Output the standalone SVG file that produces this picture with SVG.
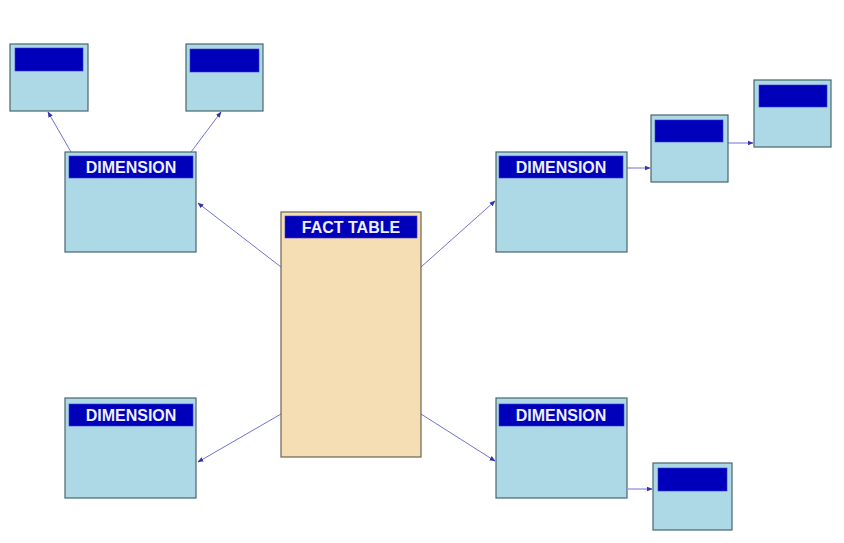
<svg xmlns="http://www.w3.org/2000/svg" width="844" height="543" viewBox="0 0 844 543">
<defs>
<style>
.box{fill:#add8e6;stroke:#48666c;stroke-width:1.2}
.fact{fill:#f5deb3;stroke:#6b6452;stroke-width:1.2}
.hdr{fill:#0000bb;stroke:#3a3ad0;stroke-width:0.6}
.lbl{font-family:"Liberation Sans",Arial,sans-serif;font-weight:bold;font-size:16px;fill:#eef0fa;text-anchor:middle}
.con{stroke:#7272d2;stroke-width:1;fill:none;marker-end:url(#ah)}
</style>
<marker id="ah" viewBox="0 0 10 10" refX="9" refY="5" markerWidth="6" markerHeight="6" orient="auto" markerUnits="userSpaceOnUse">
<path d="M0,1 L10,5 L0,9 z" fill="#3333aa"/>
</marker>
</defs>
<rect width="844" height="543" fill="#ffffff"/>
<g id="connectors">
<line class="con" x1="71" y1="152" x2="48" y2="112"/>
<line class="con" x1="191" y1="152" x2="221" y2="112"/>
<line class="con" x1="281" y1="267" x2="198" y2="203"/>
<line class="con" x1="421" y1="267" x2="495" y2="201"/>
<line class="con" x1="627" y1="168" x2="650" y2="168"/>
<line class="con" x1="728" y1="143" x2="753" y2="143"/>
<line class="con" x1="281" y1="414" x2="198" y2="462"/>
<line class="con" x1="421" y1="414" x2="495" y2="461"/>
<line class="con" x1="628" y1="489" x2="652" y2="489"/>
</g>
<g id="small-tl"><rect class="box" x="10" y="44" width="78" height="67"/><rect class="hdr" x="15" y="48" width="68" height="23"/></g>
<g id="small-tm"><rect class="box" x="186" y="44" width="77" height="67"/><rect class="hdr" x="190" y="49" width="69" height="23"/></g>
<g id="dim-tl"><rect class="box" x="65" y="152" width="131" height="100"/><rect class="hdr" x="69" y="156" width="124" height="22"/><text class="lbl" x="131" y="173">DIMENSION</text></g>
<g id="fact"><rect class="fact" x="281" y="212" width="140" height="245"/><rect class="hdr" x="285" y="216" width="132" height="22"/><text class="lbl" x="351" y="233">FACT TABLE</text></g>
<g id="dim-tr"><rect class="box" x="496" y="152" width="131" height="100"/><rect class="hdr" x="499" y="156" width="124" height="22"/><text class="lbl" x="561" y="173">DIMENSION</text></g>
<g id="small-r1"><rect class="box" x="651" y="115" width="77" height="67"/><rect class="hdr" x="655" y="120" width="68" height="22"/></g>
<g id="small-r2"><rect class="box" x="754" y="80" width="77" height="67"/><rect class="hdr" x="759" y="85" width="68" height="22"/></g>
<g id="dim-bl"><rect class="box" x="65" y="398" width="131" height="100"/><rect class="hdr" x="69" y="404" width="124" height="22"/><text class="lbl" x="131" y="421">DIMENSION</text></g>
<g id="dim-br"><rect class="box" x="496" y="398" width="131" height="100"/><rect class="hdr" x="499" y="404" width="125" height="22"/><text class="lbl" x="561" y="421">DIMENSION</text></g>
<g id="small-br"><rect class="box" x="653" y="463" width="79" height="67"/><rect class="hdr" x="658" y="468" width="69" height="23"/></g>
</svg>
